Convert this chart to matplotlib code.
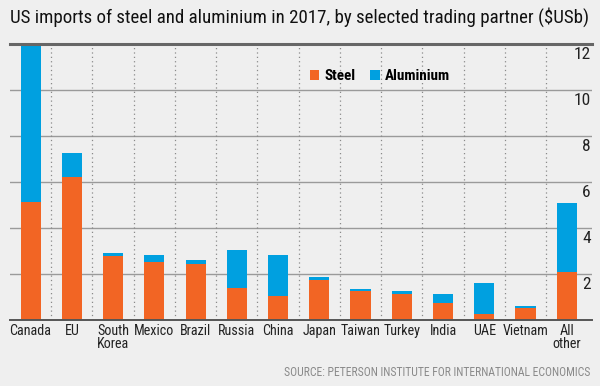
import matplotlib
matplotlib.use("Agg")
import matplotlib.pyplot as plt
from matplotlib import font_manager as fm
import numpy as np

# Data (US$ billions)
partners = ["Canada", "EU", "South\nKorea", "Mexico", "Brazil", "Russia", "China",
            "Japan", "Taiwan", "Turkey", "India", "UAE", "Vietnam", "All\nother"]
steel = [5.1, 6.2, 2.77, 2.5, 2.4, 1.39, 1.01, 1.71, 1.22, 1.13, 0.70, 0.22, 0.49, 2.07]
aluminium = [7.2, 1.06, 0.13, 0.3, 0.21, 1.62, 1.8, 0.12, 0.1, 0.09, 0.4, 1.39, 0.1, 3.02]
yticks = [2, 4, 6, 8, 10, 12]

STEEL_COL = "#f26524"
ALU_COL = "#00a0e0"
BG = "#efefef"

# pick a narrow sans if one is installed
installed = {f.name for f in fm.fontManager.ttflist}
STRETCH = "normal"
FONT = "DejaVu Sans"
for name in ["Roboto Condensed", "Liberation Sans Narrow", "Open Sans Condensed", "Noto Sans Condensed"]:
    if name in installed:
        FONT = name
        break
else:
    if any(f.name == "DejaVu Sans" and f.stretch == "condensed" for f in fm.fontManager.ttflist):
        STRETCH = "condensed"
    elif "Roboto" in installed:
        FONT = "Roboto"

plt.rcParams["font.family"] = [FONT, "DejaVu Sans"]
plt.rcParams["font.stretch"] = STRETCH

fig = plt.figure(figsize=(6, 3.86), dpi=100, facecolor=BG)
ax = fig.add_axes([10 / 600, 1 - 319.5 / 386, 582 / 600, 275.5 / 386])
ax.set_facecolor(BG)

x = np.arange(len(partners))
ax.bar(x, steel, width=0.49, color=STEEL_COL, label="Steel", zorder=3)
ax.bar(x, aluminium, width=0.49, bottom=steel, color=ALU_COL, label="Aluminium", zorder=3)

ax.set_xlim(-0.5, len(partners) - 1 + 0.61)
ax.set_ylim(0, 12)

# horizontal grid
for v in yticks[:-1]:
    ax.axhline(v, color="#9a9a9a", lw=1, zorder=1)
ax.axhline(12, color="#666666", lw=2.2, zorder=4, clip_on=False)
ax.axhline(0, color="#555555", lw=1.4, zorder=4, clip_on=False)

# vertical dotted separators
for i in range(len(partners) - 1):
    ax.axvline(i + 0.5, color="#8a8a8a", lw=0.9, ls=(0, (1, 2.5)), zorder=1)

for s in ax.spines.values():
    s.set_visible(False)

ax.set_yticks([])
ax.set_xticks(x)
ax.set_xticklabels(partners, fontsize=10.2, color="#222222", linespacing=0.88)
ax.tick_params(axis="x", length=0, pad=3.5)

for v in yticks:
    ax.annotate(str(v), xy=(1, v), xycoords=("axes fraction", "data"),
                xytext=(-1, -2.5), textcoords="offset points",
                ha="right", va="top", fontsize=12.5, color="#222222")

leg = ax.legend(loc="upper left", ncol=2, frameon=False,
                handlelength=0.7, handleheight=0.7, handletextpad=0.4,
                columnspacing=1.0, prop={"family": [FONT, "DejaVu Sans"], "stretch": STRETCH,
                                         "weight": "bold", "size": 10})

title = fig.text(10 / 600, 1 - 17 / 386,
                 "US imports of steel and aluminium in 2017, by selected trading partner ($USb)",
                 fontsize=13.5, color="#111111", ha="left", va="center")
source = fig.text(590 / 600, 1 - 373 / 386, "SOURCE: PETERSON INSTITUTE FOR INTERNATIONAL ECONOMICS",
                  fontsize=10, color="#8a8a8a", ha="right", va="center")


# scale font sizes so text widths match the reference
def fit(texts, ref, width_px):
    fig.canvas.draw()
    w = ref.get_window_extent().width
    k = width_px / w
    for t in texts:
        t.set_fontsize(t.get_fontsize() * k)


fit([title], title, 577)
fit([source], source, 307)
fit(leg.get_texts(), leg.get_texts()[1], 65)

leg.set_bbox_to_anchor((297 / 600, 1 - 56 / 386), transform=fig.transFigure)

fig.savefig("out.png", dpi=100, facecolor=BG)
